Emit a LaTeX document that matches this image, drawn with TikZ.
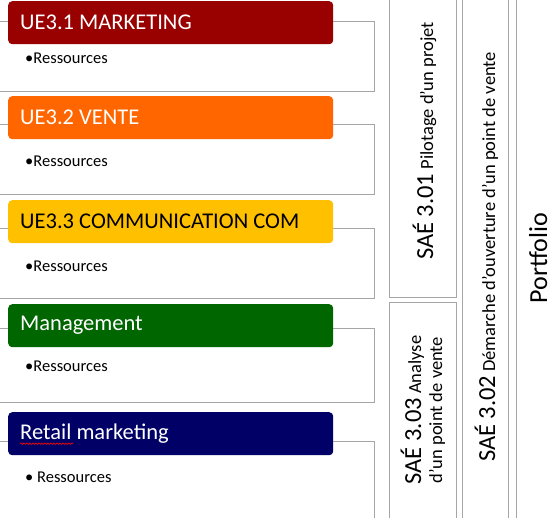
\documentclass[tikz,border=0pt]{standalone}
\usepackage{fontspec}
\setmainfont{Carlito}
\usetikzlibrary{decorations.pathmorphing}
\definecolor{uered}{HTML}{990000}
\definecolor{ueorange}{HTML}{FF6600}
\definecolor{uegold}{HTML}{FFC000}
\definecolor{uegreen}{HTML}{006600}
\definecolor{uenavy}{HTML}{000066}
\definecolor{framegray}{HTML}{A6A6A6}
\newcommand{\bigsz}{\fontsize{24.5}{28}\selectfont}
\newcommand{\smallsz}{\fontsize{18.5}{21}\selectfont}
\begin{document}
\begin{tikzpicture}[x=1pt,y=-1pt,
  panel/.style={draw=framegray, line width=1.2pt, fill=white, inner sep=0pt, anchor=north west},
  colbox/.style={draw=framegray, line width=1.2pt, fill=white, inner sep=0pt, anchor=north west},
  header/.style={rounded corners=4pt, anchor=north west, inner sep=0pt,
    minimum width=325pt, minimum height=43pt},
  htext/.style={anchor=west, inner sep=0pt, font=\fontsize{22.5}{26}\selectfont},
  res/.style={anchor=west, inner sep=0pt, font=\fontsize{16.5}{19}\selectfont},
  vtext/.style={rotate=90, anchor=base, inner sep=0pt}]
\useasboundingbox (0,0) rectangle (557,517);
\clip (0,0) rectangle (557,517);
% panels
\node[panel, minimum width=384pt, minimum height=70pt] (p1) at (-10,21) {};
\node[panel, minimum width=384pt, minimum height=70pt] (p2) at (-10,124) {};
\node[panel, minimum width=384pt, minimum height=70pt] (p3) at (-10,228) {};
\node[panel, minimum width=384pt, minimum height=74pt] (p4) at (-10,328) {};
\node[panel, minimum width=384pt, minimum height=100pt] (p5) at (-10,441) {};
% headers
\node[header, fill=uered] (h1) at (8,1) {};
\node[header, fill=ueorange] (h2) at (8,96) {};
\node[header, fill=uegold] (h3) at (8,200) {};
\node[header, fill=uegreen] (h4) at (8,304) {};
\node[header, fill=uenavy] (h5) at (8,412) {};
\node[htext, text=white] (l1) at ([xshift=12pt]h1.west) {UE3.1 MARKETING};
\node[htext, text=white] (l2) at ([xshift=12pt]h2.west) {UE3.2 VENTE};
\node[htext, text=black] (l3) at ([xshift=12pt]h3.west) {UE3.3 COMMUNICATION COM};
\node[htext, text=white] (l4) at ([xshift=12pt]h4.west) {Management};
\node[htext, text=white] (l5) at ([xshift=12pt]h5.west) {Retail marketing};
\draw[red, line width=0.6pt, decorate, decoration={snake, amplitude=0.8pt, segment length=3pt}]
  ([yshift=-10pt]l5.west) -- ([xshift=53pt, yshift=-10pt]l5.west);
% resources
\node[res] (r1) at (25,58) {•Ressources};
\node[res] (r2) at (25,161) {•Ressources};
\node[res] (r3) at (25,266) {•Ressources};
\node[res] (r4) at (25,366) {•Ressources};
\node[res] (r5) at (25,477) {• Ressources};
% columns
\node[colbox, minimum width=67pt, minimum height=307pt] (c1) at (389,-10) {};
\node[colbox, minimum width=67pt, minimum height=230pt] (c3) at (389,302) {};
\node[colbox, minimum width=46pt, minimum height=545pt] (c2) at (462,-10) {};
\node[colbox, minimum width=60pt, minimum height=545pt] (c4) at (516,-10) {};
% column texts
\node[vtext] (t1) at (433,141) {{\bigsz SAÉ 3.01}{\smallsz\ Pilotage d’un projet}};
\node[rotate=90, inner sep=0pt, align=center, font=\smallsz] (t3) at (423,410)
  {{\bigsz SAÉ 3.03}\ Analyse\\d’un point de vente};
\node[vtext] (t2) at (495,257) {{\bigsz SAÉ 3.02}{\smallsz\ Démarche d’ouverture d’un point de vente}};
\node[vtext, font=\fontsize{26}{30}\selectfont] (t4) at (547,258) {Portfolio};
\end{tikzpicture}
\end{document}
